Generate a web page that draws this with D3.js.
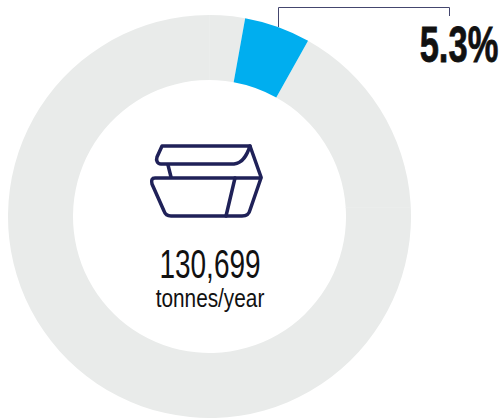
<!DOCTYPE html>
<html><head><meta charset="utf-8">
<script src="https://cdn.jsdelivr.net/npm/d3@7"></script>
<style>html,body{margin:0;padding:0;background:#fff}svg{display:block}</style></head>
<body><svg id="c" width="502" height="418"></svg>
<script>
const categories = ["Share", "Rest"];
const values = [5.3, 94.7];
const colors = ["#00aeef", "#e9ebea"];
const valueLabel = "5.3%";
const totalLabel = "130,699";
const unitLabel = "tonnes/year";
const svg = d3.select("#c");
const cx = 209.5, cy = 216.5;
const start = 10.2 * Math.PI / 180;
const pie = d3.pie().sort(null).startAngle(start).endAngle(start + 2 * Math.PI);
const arc = d3.arc().innerRadius(136.5).outerRadius(201.5);
const g = svg.append("g").attr("transform", `translate(${cx},${cy})`);
const arcs = pie(values);
g.selectAll("path").data(arcs.slice().reverse()).join("path")
  .attr("d", arc).attr("fill", (d) => colors[d.index]);
// faint seams in the grey ring
svg.append("path").attr("d", "M209.5 15V80M345.5 207.5H411").attr("stroke", "#eceeed").attr("stroke-width", 0.6).attr("fill", "none");
// leader
svg.append("path").attr("d", "M278.5 27V7.5H449.5V16").attr("fill", "none")
  .attr("stroke", "#44466e").attr("stroke-width", 1);
// icon
const icon = svg.append("g").attr("fill", "none").attr("stroke", "#1f2158")
  .attr("stroke-width", 3.5).attr("stroke-linejoin", "round").attr("stroke-linecap", "round");
icon.append("path").attr("d", "M162 146H250C247 155 243 163 234 164H161C157 164 156 160 157 157Z");
icon.append("path").attr("d", "M250 146L261 177M168 165L171 177");
icon.append("path").attr("d", "M155 178H261L250 210C249 215 246 216 242 216H171C167 216 165 214 164 211L152 184C151 180 152 178 155 178Z");
icon.append("path").attr("d", "M235 178L226 216");
function label(txt, x, y, size, weight, sx, stroke) {
  svg.append("text").attr("transform", `translate(${x},${y}) scale(${sx},1)`)
    .attr("text-anchor", "middle").attr("font-family", "'Liberation Sans',sans-serif")
    .attr("font-size", size).attr("font-weight", weight).attr("fill", "#111")
    .attr("stroke", stroke ? "#111" : "none").attr("stroke-width", stroke || 0).text(txt);
}
label(valueLabel, 459, 62, 50, 700, 0.69, 0.8);
label(totalLabel, 210, 278, 40, 400, 0.70);
label(unitLabel, 210, 307, 26, 400, 0.80);
</script></body></html>
